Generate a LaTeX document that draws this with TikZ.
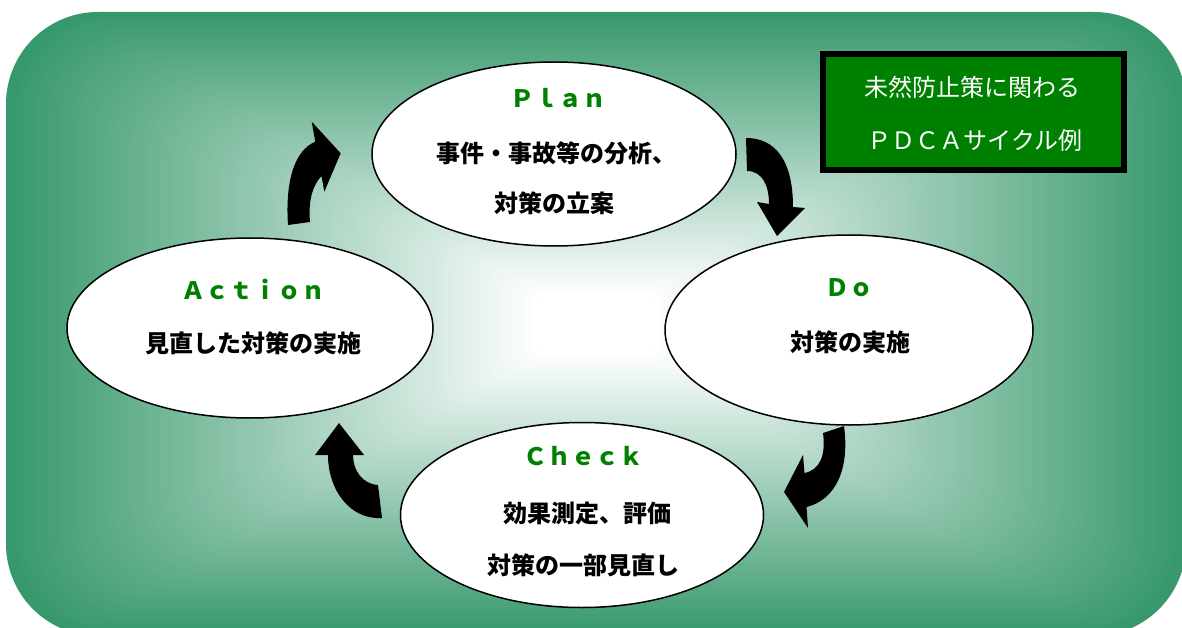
\documentclass[tikz,border=0pt]{standalone}
\usepackage{fontspec}
\newfontfamily\jp{Noto Sans CJK JP}
\usetikzlibrary{shapes.geometric}
\definecolor{bggreen}{RGB}{55,152,108}
\definecolor{headgreen}{RGB}{0,128,0}
\definecolor{boxgreen}{RGB}{0,128,0}

\begin{document}
\begin{tikzpicture}[x=1pt, y=-1pt,
  every node/.style={inner sep=0pt},
  phase/.style={ellipse, draw, line width=1.5pt, fill=white},
  head/.style={text=headgreen, font=\jp\bfseries\fontsize{24}{24}\selectfont},
  body/.style={font=\jp\bfseries\fontsize{24}{24}\selectfont},
  turn/.style={fill=black}]
\useasboundingbox (0,0) rectangle (1182,628);
% background, rectangular gradient from the rim to the middle
\foreach \i in {0,...,90} {
  \pgfmathsetmacro\d{1-\i*0.01}
  \pgfmathsetmacro\p{(\d-0.1)/0.9*100}
  \fill[bggreen!\p!white, rounded corners=92*\d pt]
    ({596-590*\d},{324-312*\d}) rectangle ({596+590*\d},{324+312*\d});
}
% phases
\node[phase, minimum width=364pt, minimum height=184pt] (plan) at (554,154) {};
\node[phase, minimum width=368pt, minimum height=190pt] (do) at (849,330) {};
\node[phase, minimum width=363pt, minimum height=185pt] (check) at (582,515) {};
\node[phase, minimum width=366pt, minimum height=180pt] (act) at (250,328) {};
% labels
\node[head] (plan-h) at (558,98) {Ｐｌａｎ};
\node[body] (plan-1) at (556,153) {事件・事故等の分析、};
\node[body] (plan-2) at (554,203) {対策の立案};
\node[head] (do-h) at (849,288) {Ｄｏ};
\node[body] (do-1) at (850,342) {対策の実施};
\node[head] (check-h) at (583,456) {Ｃｈｅｃｋ};
\node[body] (check-1) at (587,513) {効果測定、評価};
\node[body] (check-2) at (583,565) {対策の一部見直し};
\node[head] (act-h) at (253,289) {Ａｃｔｉｏｎ};
\node[body] (act-1) at (253,343) {見直した対策の実施};
% title box
\node[draw=black, line width=6pt, fill=boxgreen, minimum width=301pt, minimum height=116pt] (title) at (973.5,112) {};
\node[text=white, font=\jp\fontsize{24}{24}\selectfont] (title-1) at (972,87) {未然防止策に関わる};
\node[text=white, font=\jp\fontsize{24}{24}\selectfont] (title-2) at (975,140) {ＰＤＣＡサイクル例};
% curved arrows
\fill[turn] (746,138) .. controls (775,138) and (793,160) .. (793,207) -- (805,208) -- (777,236) -- (757,202) -- (769,204) .. controls (769,185) and (762,171) .. (747,171) -- cycle;
\fill[turn] (823,433) -- (844,426) .. controls (850,470) and (835,500) .. (806.5,507) -- (808,528) -- (784,492) -- (803,455) -- (804.5,473) .. controls (820,470) and (826,455) .. (823,433) -- cycle;
\fill[turn] (339,423) -- (364,455) -- (353,455) .. controls (353,470) and (362,484) .. (378,485) -- (382,518) .. controls (350,520) and (328,490) .. (328,455) -- (315,455) -- cycle;
\fill[turn] (340.7,153.3) -- (324.3,191.7) -- (321.5,176) .. controls (313,185) and (308,200) .. (310,222) -- (288,225) .. controls (285,180) and (295,150) .. (315.3,141.7) -- (311.7,121.7) -- cycle;
\end{tikzpicture}
\end{document}
